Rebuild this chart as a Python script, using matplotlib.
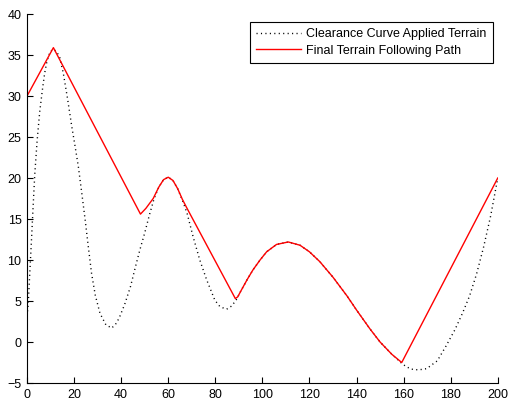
import matplotlib
matplotlib.use("Agg")
import matplotlib.pyplot as plt

plt.rcParams['font.family'] = ['Liberation Sans', 'DejaVu Sans']

# terrain after the clearance curve is applied
terrain_x = [0, 0.5, 1.2, 1.9, 2.6, 3.3, 4.3, 5.4, 6.5, 7.5, 8.5, 9.8, 11.2, 12.6,
             13.9, 15.4, 17.2, 19.0, 20.4, 21.8, 23.2, 24.7, 26.0, 27.4, 29.0, 31.0,
             33.5, 36.0, 38.0, 39.4, 41.5, 44.0, 46.0, 48.0, 50.0, 52.0, 54.0, 56.0,
             58.0, 60.0, 62.0, 64.0, 66.0, 68.0, 70.6, 73.4, 76.3, 79.8, 82.0, 84.8,
             87.0, 89.0, 91.0, 93.5, 96.0, 99.0, 101.8, 106.0, 111.0, 116.0, 120.0,
             124.4, 130.0, 136.0, 140.0, 145.7, 150.0, 155.0, 159.2, 160.6, 163.0,
             166.3, 169.8, 171.9, 174.3, 178.0, 181.8, 185.0, 188.0, 191.0, 194.0,
             197.0, 200.0]
terrain_y = [3.2, 4.6, 8.6, 12.5, 16.6, 20.5, 24.6, 28.1, 30.7, 32.8, 34.3, 35.4, 35.7, 35.4,
             34.7, 32.8, 29.7, 26.3, 23.9, 21.4, 18.3, 14.9, 11.7, 8.4, 5.7, 3.5,
             2.1, 1.7, 2.3, 3.1, 4.6, 6.8, 9.1, 11.3, 13.3, 15.5, 17.5, 18.9,
             19.8, 20.1, 19.7, 18.7, 17.3, 15.7, 12.8, 10.0, 7.6, 5.1, 4.3, 4.0,
             4.4, 5.2, 6.3, 7.6, 8.8, 10.0, 11.0, 11.9, 12.2, 11.8, 11.0,
             9.8, 7.9, 5.6, 3.9, 1.6, 0.0, -1.5, -2.6, -2.9, -3.3,
             -3.4, -3.25, -2.8, -2.3, -0.5, 1.5, 3.5, 5.6, 8.3, 11.6,
             15.4, 20.0]

# final terrain following path
path_x = [0, 11.2, 48.2, 50.5, 53.6, 56.0, 58.0, 60.0, 62.0, 64.0, 66.0, 67.8,
          88.5, 89.5, 91.0, 93.5, 96.0, 99.0, 101.8, 106.0, 111.0, 116.0, 120.0,
          124.4, 130.0, 136.0, 140.0, 145.7, 150.0, 155.0, 159.2, 200.0]
path_y = [30.0, 35.9, 15.6, 16.3, 17.5, 18.9, 19.8, 20.1, 19.7, 18.7, 17.4, 16.4,
          5.3, 5.5, 6.3, 7.6, 8.8, 10.0, 11.0, 11.9, 12.2, 11.8, 11.0,
          9.8, 7.9, 5.6, 3.9, 1.6, 0.0, -1.5, -2.5, 20.0]

fig = plt.figure(figsize=(5.10, 4.03), dpi=100)
ax = fig.add_axes([0.053, 0.0496, 0.923, 0.9156])

ax.plot(terrain_x, terrain_y, color='black', linestyle=(0, (0.8, 2.4)), linewidth=1.0,
        label='Clearance Curve Applied Terrain')
ax.plot(path_x, path_y, color='red', linestyle='-', linewidth=1.0,
        label='Final Terrain Following Path')

ax.set_xlim(0, 200)
ax.set_ylim(-5, 40)
ax.set_xticks(range(0, 201, 20))
ax.set_yticks(range(-5, 41, 5))

ax.spines['top'].set_visible(False)
ax.spines['right'].set_visible(False)
ax.spines['left'].set_linewidth(0.8)
ax.spines['bottom'].set_linewidth(0.8)
ax.tick_params(direction='in', length=4, width=0.8, labelsize=9, pad=4)

leg = ax.legend(loc='upper right', bbox_to_anchor=(0.989, 0.978), borderaxespad=0,
                fontsize=9, fancybox=False, framealpha=1, edgecolor='black',
                handlelength=3.6, handletextpad=0.4, labelspacing=0.35, borderpad=0.5)
leg.get_frame().set_linewidth(0.8)

fig.savefig('out.png', dpi=100)
